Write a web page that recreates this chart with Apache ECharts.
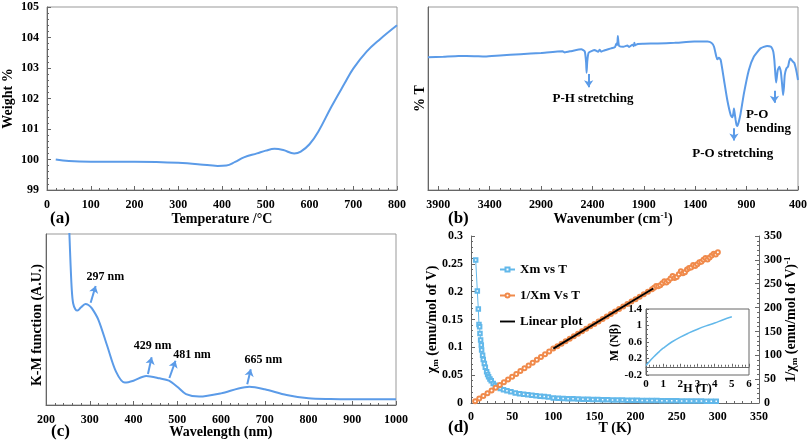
<!DOCTYPE html>
<html><head><meta charset="utf-8">
<script src="https://cdn.jsdelivr.net/npm/echarts@6/dist/echarts.min.js"></script>
<style>html,body{margin:0;padding:0;background:#fff}#c{width:810px;height:442px}</style>
</head><body><div id="c"></div>
<script>
// (a) TGA
const tgaT = [20, 50, 100, 150, 200, 250, 300, 350, 390, 410, 430, 450, 480, 500, 520, 540, 565, 580, 600, 620, 650, 680, 700, 730, 760, 800];
const tgaW = [100.0, 99.95, 99.93, 99.93, 99.93, 99.92, 99.89, 99.84, 99.79, 99.80, 99.92, 100.07, 100.2, 100.29, 100.35, 100.31, 100.2, 100.26, 100.5, 100.91, 101.73, 102.49, 102.98, 103.53, 103.93, 104.40];
// (b) FTIR
const ftirWn = [4000, 3850, 3703, 3550, 3445, 3300, 3100, 2900, 2690, 2670, 2600, 2508, 2475, 2462, 2457, 2450, 2437, 2379, 2345, 2330, 2315, 2280, 2218, 2180, 2166, 2158, 2153, 2147, 2140, 2100, 2060, 2043, 2010, 1998, 1992, 1985, 1960, 1900, 1766, 1600, 1410, 1281, 1240, 1217, 1195, 1184, 1170, 1152, 1120, 1088, 1055, 1039, 1030, 1023, 1015, 1007, 998, 990, 975, 958, 926, 878, 829, 765, 700, 665, 652, 640, 630, 620, 613, 605, 597, 581, 570, 565, 555, 545, 537, 529, 513, 497, 485, 474, 462, 449, 437, 425, 412, 400];
const ftirT = [72.5, 72.8, 73.2, 73.1, 72.9, 73.5, 74.2, 74.9, 75.8, 75.2, 76.0, 76.9, 75.8, 70.0, 64.1, 70.5, 75.0, 76.5, 75.5, 76.6, 75.6, 76.4, 77.4, 78.2, 80.1, 79.2, 84.2, 80.5, 78.7, 78.3, 78.9, 78.2, 79.4, 78.6, 80.5, 79.0, 79.8, 79.9, 80.1, 80.4, 81.1, 81.1, 80.3, 78.3, 73.0, 71.4, 72.3, 71.0, 60.1, 49.2, 41.0, 39.7, 41.5, 44.6, 41.5, 38.3, 35.5, 35.0, 37.5, 41.9, 52.8, 65.6, 72.9, 77.4, 78.7, 78.4, 77.4, 75.5, 71.0, 63.0, 58.7, 62.0, 65.6, 67.4, 65.5, 63.8, 58.0, 51.9, 56.0, 62.8, 66.5, 67.4, 70.5, 71.9, 71.0, 70.1, 69.5, 67.4, 64.0, 60.1];
// (c) DRS / K-M
const drsWl = [252, 253.5, 256, 259, 262, 267, 272, 280, 290, 297, 305, 320, 340, 360, 380, 400, 429, 460, 481, 500, 520, 550, 600, 640, 665, 700, 750, 800, 850, 900, 1000];
const drsKM = [110, 100, 83, 67, 59.5, 56, 55.2, 57.1, 59.1, 58.5, 56.5, 49.7, 34.5, 19.5, 13.1, 14.2, 17.0, 15.6, 14.2, 10.7, 6.4, 4.9, 6.8, 9.7, 10.7, 9.2, 5.8, 3.9, 3.5, 3.4, 3.4];
// (d) magnetic
const xmT = [5.7, 7.7, 8.9, 9.7, 10.5, 10.9, 11.7, 12.5, 12.9, 14.1, 14.9, 16.2, 17.4, 19, 20.2, 21.4, 23, 24.6, 27, 29.5, 32.5, 35.6, 39.5, 43.7, 48.5, 53.8, 59, 64, 69, 74, 79, 84, 89, 94, 100, 106, 112, 118, 124, 130, 136, 142, 148, 154, 160, 166, 172, 178, 184, 190, 196, 202, 208, 214, 220, 226, 232, 238, 244, 250, 256, 262, 268, 274, 280, 286, 292, 298];
const xmVal = [0.257, 0.201, 0.169, 0.141, 0.137, 0.125, 0.113, 0.104, 0.095, 0.086, 0.078, 0.071, 0.064, 0.056, 0.051, 0.047, 0.043, 0.040, 0.035, 0.032, 0.029, 0.026, 0.024, 0.022, 0.020, 0.018, 0.0168, 0.0157, 0.0148, 0.014, 0.0131, 0.0123, 0.0115, 0.0106, 0.0092, 0.0087, 0.0082, 0.0078, 0.0075, 0.0072, 0.0069, 0.0066, 0.0063, 0.0061, 0.0059, 0.0057, 0.0055, 0.0053, 0.0052, 0.0050, 0.0049, 0.0048, 0.0046, 0.0045, 0.0044, 0.0043, 0.0042, 0.0041, 0.0040, 0.0039, 0.0038, 0.0037, 0.0036, 0.0035, 0.0034, 0.0033, 0.0032, 0.0031];
const invT = [5, 10, 15, 20, 25, 30, 35, 40, 45, 50, 55, 60, 65, 70, 75, 80, 85, 90, 95, 100, 105, 110, 115, 120, 125, 130, 135, 140, 145, 150, 155, 160, 165, 170, 175, 180, 185, 190, 195, 200, 205, 210, 215, 220, 222.5, 225, 227.5, 230, 232.5, 235, 237.5, 240, 242.5, 245, 247.5, 250, 252.5, 255, 257.5, 260, 262.5, 265, 267.5, 270, 272.5, 275, 277.5, 280, 282.5, 285, 287.5, 290, 292.5, 295, 297.5, 300];
const invVal = [3.5, 9.2, 14.9, 20.6, 26.3, 32, 37.6, 43.4, 49.3, 55.2, 61, 66.9, 72.8, 78.6, 84.5, 90.4, 96.2, 102.1, 108, 114, 119, 124.3, 129.5, 134.7, 139.9, 145.1, 150.3, 155.5, 160.6, 165.8, 171, 176.2, 181.4, 186.5, 191.7, 196.9, 202.1, 207.3, 212.5, 217.7, 222.8, 228, 233.2, 238.6, 241.5, 245, 244.5, 247, 251, 255, 252.5, 256, 261, 266, 262, 264, 270, 276, 272, 274, 280, 283, 284, 289, 287, 291, 295, 296, 300, 304, 301, 305, 309, 313, 311, 316];
const linT = [100, 221.5];
const linVal = [114, 240];
const magH = [0, 0.2, 0.4, 0.6, 0.8, 1, 1.5, 2, 2.5, 3, 3.5, 4, 4.5, 5];
const magM = [0.03, 0.13, 0.22, 0.3, 0.38, 0.45, 0.6, 0.72, 0.82, 0.91, 0.99, 1.06, 1.14, 1.21];

const zip = (a, b) => a.map((v, i) => [v, b[i]]);
const serif = "'Liberation Serif','Times New Roman',serif";
const ts = (s) => ({fontFamily: serif, fontWeight: 'bold', fontSize: s, color: '#000'});
const BLUE = '#5B9BE8';
const LBLUE = '#62B8EA';
const ORANGE = '#F08A4B';
const AXC = '#666';
const plain = (v) => String(v);

function axBase(o) {
  return Object.assign({
    type: 'value',
    nameMoveOverlap: false,
    axisLine: {show: true, lineStyle: {color: AXC, width: 1}},
    axisTick: {show: true, inside: true, length: 4, lineStyle: {color: AXC}},
    minorTick: {show: true, splitNumber: 5, length: 2, lineStyle: {color: AXC}},
    splitLine: {show: false},
    axisLabel: Object.assign({margin: 8}, ts(12)),
    nameLocation: 'middle',
    nameTextStyle: ts(14)
  }, o);
}
const arrow = (x1, y1, x2, y2) => [{coord: [x1, y1]}, {coord: [x2, y2]}];
const note = (x, y, txt) => ({coord: [x, y], name: txt});
function marks(arrows, notes, fs) {
  return {
    markLine: {silent: true, symbol: ['none', 'arrow'], symbolSize: [7, 7], label: {show: false},
      lineStyle: {color: BLUE, width: 2, type: 'solid'}, data: arrows, animation: false},
    markPoint: {silent: true, symbol: 'circle', symbolSize: 1, itemStyle: {color: 'rgba(0,0,0,0)'},
      label: Object.assign({show: true, position: 'inside', formatter: '{b}'}, ts(fs)), data: notes, animation: false}
  };
}

const chart = echarts.init(document.getElementById('c'));
const option = {
  animation: false,
  backgroundColor: '#fff',
  grid: [
    {left: 47, top: 7, width: 350, height: 183, show: true, borderColor: '#999', borderWidth: 1},
    {left: 428, top: 7, width: 371, height: 183, show: true, borderColor: '#999', borderWidth: 1},
    {left: 46, top: 234, width: 350, height: 171, show: true, borderColor: '#999', borderWidth: 1},
    {left: 471, top: 236, width: 288, height: 167},
    {left: 646, top: 309, width: 103, height: 66, show: true, borderColor: '#666', borderWidth: 1, backgroundColor: '#fff'}
  ],
  xAxis: [
    axBase({gridIndex: 0, min: 0, max: 800, interval: 100, name: 'Temperature /°C', nameGap: 22, axisLabel: Object.assign({margin: 9}, ts(12))}),
    axBase({gridIndex: 1, min: 400, max: 4000, interval: 500, inverse: true, name: '{n|Wavenumber (cm}{sup|-1}{n|)}', nameGap: 21,
      axisLabel: Object.assign({margin: 9, showMaxLabel: false, formatter: plain}, ts(12)),
      nameTextStyle: {rich: {n: Object.assign({lineHeight: 16}, ts(14)), sup: Object.assign({verticalAlign: 'top', lineHeight: 9}, ts(9))}}}),
    axBase({gridIndex: 2, min: 200, max: 1000, interval: 100, name: 'Wavelength (nm)', nameGap: 20,
      axisLabel: Object.assign({margin: 9, formatter: plain}, ts(12))}),
    axBase({gridIndex: 3, min: 0, max: 350, interval: 50, name: 'T (K)', nameGap: 18}),
    axBase({gridIndex: 4, min: 0, max: 6, interval: 1, name: 'H (T)', nameGap: 8, nameTextStyle: ts(12),
      axisTick: {show: true, inside: true, length: 3, lineStyle: {color: AXC}},
      axisLabel: Object.assign({margin: 4}, ts(11))})
  ],
  yAxis: [
    axBase({gridIndex: 0, min: 99, max: 105, interval: 1, name: 'Weight %', nameGap: 32}),
    axBase({gridIndex: 1, min: 0, max: 100, name: '% T', nameGap: 1, axisLabel: {show: false}, axisTick: {show: false}, minorTick: {show: false}}),
    axBase({gridIndex: 2, min: 0, max: 100, axisLabel: {show: false}, axisTick: {show: false}, minorTick: {show: false}}),
    axBase({gridIndex: 3, min: 0, max: 0.3, interval: 0.05, nameGap: 31,
      name: '{i|χ}{s|m}{n| (emu/mol of V)}',
      nameTextStyle: {rich: {i: Object.assign({lineHeight: 16}, ts(14)), n: Object.assign({lineHeight: 16}, ts(14)), s: Object.assign({verticalAlign: 'bottom', lineHeight: 10}, ts(9))}}}),
    axBase({gridIndex: 3, position: 'right', min: 0, max: 350, interval: 50, nameGap: 24,
      name: '{n|1/}{i|χ}{s|m}{n| (emu/mol of V)}{sup|-1}',
      nameTextStyle: {rich: {i: Object.assign({lineHeight: 16}, ts(14)), n: Object.assign({lineHeight: 16}, ts(14)), s: Object.assign({verticalAlign: 'bottom', lineHeight: 10}, ts(9)), sup: Object.assign({verticalAlign: 'top', lineHeight: 9}, ts(9))}},
      axisLabel: Object.assign({margin: 5}, ts(12))}),
    axBase({gridIndex: 4, min: -0.2, max: 1.4, interval: 0.4,
      axisTick: {show: true, inside: true, length: 3, lineStyle: {color: AXC}},
      minorTick: {show: true, splitNumber: 4, length: 2, lineStyle: {color: AXC}},
      axisLabel: Object.assign({margin: 4}, ts(11))})
  ],
  legend: {
    orient: 'vertical', left: 494, top: 258, itemWidth: 15, itemHeight: 5, itemGap: 13,
    data: ['Xm vs T', '1/Xm Vs T', {name: 'Linear plot', icon: 'path://M0,0H16V2H0Z'}],
    textStyle: ts(13), selectedMode: false
  },
  series: [
    {name: 'tga', type: 'line', xAxisIndex: 0, yAxisIndex: 0, data: zip(tgaT, tgaW), smooth: 0.4, showSymbol: false,
      lineStyle: {color: BLUE, width: 2}},
    Object.assign({name: 'ftir', type: 'line', xAxisIndex: 1, yAxisIndex: 1, data: zip(ftirWn, ftirT), smooth: 0.15, showSymbol: false,
      lineStyle: {color: BLUE, width: 2}},
      marks([arrow(2437, 63.4, 2437, 56.1), arrow(1023, 33.7, 1023, 27), arrow(629, 54.3, 629, 47.7)],
        [note(2395, 50.1, 'P-H stretching'), note(1035, 19.7, 'P-O stretching'),
         note(798, 41.3, 'P-O'), note(686, 33.7, 'bending')], 13)),
    Object.assign({name: 'drs', type: 'line', xAxisIndex: 2, yAxisIndex: 2, data: zip(drsWl, drsKM), smooth: 0.3, showSymbol: false,
      lineStyle: {color: BLUE, width: 2}},
      marks([arrow(302, 59.8, 313.5, 69.6), arrow(433, 18.1, 441.5, 27.9), arrow(482, 15.8, 496, 25.9), arrow(660, 12.1, 668, 20.9)],
        [note(335.6, 74.7, '297 nm'), note(443.8, 34.5, '429 nm'), note(533.7, 29.2, '481 nm'), note(696.8, 26.3, '665 nm')], 12)),
    {name: 'Xm vs T', type: 'line', xAxisIndex: 3, yAxisIndex: 3, data: zip(xmT, xmVal), symbol: 'emptyRect', symbolSize: 3.5,
      itemStyle: {color: LBLUE, borderWidth: 1}, lineStyle: {color: LBLUE, width: 1}},
    {name: '1/Xm Vs T', type: 'line', xAxisIndex: 3, yAxisIndex: 4, data: zip(invT, invVal), symbol: 'emptyCircle', symbolSize: 4,
      itemStyle: {color: ORANGE, borderWidth: 1}, lineStyle: {color: ORANGE, width: 1.2}},
    {name: 'Linear plot', type: 'line', xAxisIndex: 3, yAxisIndex: 4, data: zip(linT, linVal), symbol: 'none',
      itemStyle: {color: '#000'}, lineStyle: {color: '#000', width: 2}, z: 5},
    {name: 'MH', type: 'line', xAxisIndex: 4, yAxisIndex: 5, data: zip(magH, magM), smooth: 0.4, showSymbol: false,
      lineStyle: {color: LBLUE, width: 1.5}, z: 6}
  ],
  graphic: [
    {type: 'text', left: 50, top: 210, style: {text: '(a)', font: 'bold 17px ' + serif, fill: '#000'}},
    {type: 'text', left: 448, top: 210, style: {text: '(b)', font: 'bold 17px ' + serif, fill: '#000'}},
    {type: 'text', left: 51, top: 423, style: {text: '(c)', font: 'bold 17px ' + serif, fill: '#000'}},
    {type: 'text', left: 448, top: 419, style: {text: '(d)', font: 'bold 17px ' + serif, fill: '#000'}},
    {type: 'text', left: 30, top: 264, rotation: Math.PI / 2,
      style: {text: 'K-M function (A.U.)', font: 'bold 14px ' + serif, fill: '#000'}},
    {type: 'text', left: 609, top: 324, rotation: Math.PI / 2, z: 10,
      style: {text: 'M (Nβ)', font: 'bold 12px ' + serif, fill: '#000'}}
  ]
};
chart.setOption(option);
</script>
</body></html>
